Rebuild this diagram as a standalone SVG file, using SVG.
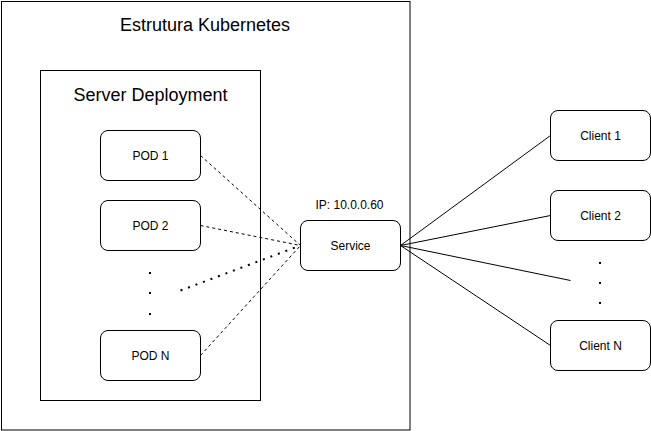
<svg xmlns="http://www.w3.org/2000/svg" width="651" height="431" viewBox="0 0 651 431">
<style>
.box{fill:#fff;stroke:#000;stroke-width:1}
.node{fill:#fff;stroke:#000;stroke-width:1}
.t{font-family:"Liberation Sans",Arial,sans-serif;fill:#000;text-anchor:middle}
.big{font-size:18px}
.sm{font-size:12px}
.lbl{font-size:11px}
.dash{fill:none;stroke:#000;stroke-width:1;stroke-dasharray:3 3}
.dot{fill:none;stroke:#000;stroke-width:2;stroke-dasharray:2 6}
.solid{fill:none;stroke:#000;stroke-width:1}
</style>
<rect width="651" height="431" fill="#fff"/>
<g id="kubernetes">
<rect class="box" x="1.5" y="1.5" width="408.5" height="428.5"/>
<text class="t big" x="205" y="31">Estrutura Kubernetes</text>
</g>
<g id="server-deployment">
<rect class="box" x="40.5" y="70.5" width="220" height="330"/>
<text class="t big" x="150.5" y="101">Server Deployment</text>
</g>
<g id="connectors">
<path class="dash" d="M200.5 155.5 L300.5 245.5"/>
<path class="dash" d="M200.5 225.5 L300.5 245.5"/>
<path class="dash" d="M200.5 355.5 L300.5 245.5"/>
<path class="dot" d="M180.5 290.5 L300.5 245.5"/>
<path class="solid" d="M400.5 245.5 L550.5 135.5"/>
<path class="solid" d="M400.5 245.5 L550.5 215.5"/>
<path class="solid" d="M400.5 245.5 L570.5 280.5"/>
<path class="solid" d="M400.5 245.5 L550.5 345.5"/>
</g>
<g id="pod1">
<rect class="node" x="100.5" y="130.5" width="100" height="50" rx="7.5"/>
<text class="t sm" x="150.5" y="159.5">POD 1</text>
</g>
<g id="pod2">
<rect class="node" x="100.5" y="200.5" width="100" height="50" rx="7.5"/>
<text class="t sm" x="150.5" y="229.5">POD 2</text>
</g>
<g id="pod-dots">
<rect x="149" y="272" width="2" height="2"/>
<rect x="149" y="292" width="2" height="2"/>
<rect x="149" y="313" width="2" height="2"/>
</g>
<g id="podN">
<rect class="node" x="100.5" y="330.5" width="100" height="50" rx="7.5"/>
<text class="t sm" x="150.5" y="359.5">POD N</text>
</g>
<g id="service">
<rect class="node" x="300.5" y="220.5" width="100" height="50" rx="7.5"/>
<text class="t sm" x="350.5" y="249.5">Service</text>
<text class="t sm" x="349.5" y="208.5">IP: 10.0.0.60</text>
</g>
<g id="client1">
<rect class="node" x="550.5" y="110.5" width="100" height="50" rx="7.5"/>
<text class="t sm" x="600.5" y="139.5">Client 1</text>
</g>
<g id="client2">
<rect class="node" x="550.5" y="190.5" width="100" height="50" rx="7.5"/>
<text class="t sm" x="600.5" y="219.5">Client 2</text>
</g>
<g id="client-dots">
<rect x="599" y="262" width="2" height="2"/>
<rect x="599" y="282" width="2" height="2"/>
<rect x="599" y="302" width="2" height="2"/>
</g>
<g id="clientN">
<rect class="node" x="550.5" y="320.5" width="100" height="50" rx="7.5"/>
<text class="t sm" x="600.5" y="349.5">Client N</text>
</g>
</svg>
